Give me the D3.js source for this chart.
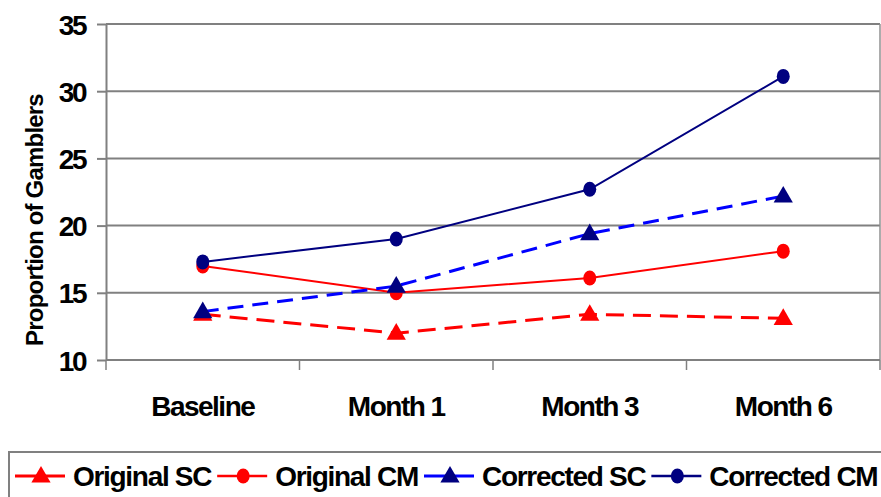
<!DOCTYPE html>
<html>
<head>
<meta charset="utf-8">
<script src="https://cdn.jsdelivr.net/npm/d3@7"></script>
<style>
  html, body { margin: 0; padding: 0; background: #fff; }
  svg { display: block; }
  text { font-family: "Liberation Sans", Arial, sans-serif; font-weight: bold; fill: #000; }
</style>
</head>
<body>
<svg id="chart" width="881" height="497"></svg>
<script>
// Time points and proportions of gamblers (%) for each group
const categories = ["Baseline", "Month 1", "Month 3", "Month 6"];
const originalSC  = [13.4, 12.0, 13.4, 13.1];
const originalCM  = [17.0, 15.0, 16.1, 18.1];
const correctedSC = [13.6, 15.5, 19.4, 22.2];
const correctedCM = [17.3, 19.0, 22.7, 31.1];
const yTicks = [10, 15, 20, 25, 30, 35];
const yTitle = "Proportion of Gamblers";

const seriesList = [
  { name: "Original SC",  values: originalSC,  line: "#ff0000", marker: "#ff0000", symbol: "triangle", dash: "18,9" },
  { name: "Original CM",  values: originalCM,  line: "#ff0000", marker: "#ff0000", symbol: "circle",   dash: null },
  { name: "Corrected SC", values: correctedSC, line: "#0000ff", marker: "#000080", symbol: "triangle", dash: "16,9" },
  { name: "Corrected CM", values: correctedCM, line: "#000080", marker: "#000080", symbol: "circle",   dash: null }
];

const svg = d3.select("#chart");
const plot = { left: 106, right: 880, top: 24, bottom: 360 };

const x = d3.scaleBand().domain(categories).range([plot.left, plot.right]).padding(0);
const y = d3.scaleLinear().domain([10, 35]).range([plot.bottom, plot.top]);

// Horizontal gridlines
svg.append("g")
  .selectAll("line")
  .data(yTicks)
  .join("line")
  .attr("x1", plot.left).attr("x2", plot.right)
  .attr("y1", d => y(d)).attr("y2", d => y(d))
  .attr("stroke", "#808080").attr("stroke-width", 2);

// Right edge of plot area
svg.append("line")
  .attr("x1", plot.right).attr("x2", plot.right)
  .attr("y1", plot.top).attr("y2", plot.bottom)
  .attr("stroke", "#909090").attr("stroke-width", 1.5);

// Y axis
const yAxis = svg.append("g")
  .attr("transform", `translate(${plot.left},0)`)
  .call(d3.axisLeft(y).tickValues(yTicks).tickSize(9).tickPadding(12).tickSizeOuter(0));
yAxis.select(".domain").attr("stroke", "#808080").attr("stroke-width", 2);
yAxis.selectAll(".tick line").attr("stroke", "#808080").attr("stroke-width", 2);
yAxis.selectAll(".tick text")
  .attr("font-size", 28).attr("letter-spacing", "-2.5px")
  .attr("font-family", "Liberation Sans, Arial, sans-serif").attr("font-weight", "bold")
  .attr("fill", "#000").attr("dy", "0.36em");

// X axis with ticks between categories
const xAxis = svg.append("g")
  .attr("transform", `translate(0,${plot.bottom})`);
xAxis.append("line")
  .attr("x1", plot.left).attr("x2", plot.right)
  .attr("stroke", "#808080").attr("stroke-width", 2);
const boundaries = categories.map(c => x(c)).concat([plot.right]);
xAxis.selectAll("line.sep")
  .data(boundaries)
  .join("line").attr("class", "sep")
  .attr("x1", d => d).attr("x2", d => d)
  .attr("y1", 0).attr("y2", 10)
  .attr("stroke", "#808080").attr("stroke-width", 1.5);
xAxis.selectAll("text")
  .data(categories)
  .join("text")
  .attr("x", d => x(d) + x.bandwidth() / 2)
  .attr("y", 56)
  .attr("text-anchor", "middle")
  .attr("font-size", 28).attr("letter-spacing", "-1.5px")
  .text(d => d);

// Y title
svg.append("text")
  .attr("transform", `translate(43,220) rotate(-90)`)
  .attr("text-anchor", "middle")
  .attr("font-size", 24).attr("letter-spacing", "-0.8px")
  .text(yTitle);

const triangle = d3.symbol().type(d3.symbolTriangle).size(160);

function drawMarker(g, s, cx, cy) {
  if (s.symbol === "circle") {
    g.append("ellipse").attr("cx", cx).attr("cy", cy).attr("rx", 6.5).attr("ry", 7.5)
      .attr("fill", s.marker);
  } else {
    g.append("path").attr("d", triangle).attr("transform", `translate(${cx},${cy + 1})`)
      .attr("fill", s.marker);
  }
}

const lineGen = d3.line()
  .x((d, i) => x(categories[i]) + x.bandwidth() / 2)
  .y(d => y(d));

// Series lines and markers
seriesList.forEach(s => {
  const g = svg.append("g");
  g.append("path")
    .attr("d", lineGen(s.values))
    .attr("fill", "none")
    .attr("stroke", s.line)
    .attr("stroke-width", s.dash ? 3 : 2)
    .attr("stroke-dasharray", s.dash);
  s.values.forEach((v, i) => drawMarker(g, s, x(categories[i]) + x.bandwidth() / 2, y(v)));
});

// Legend
const legend = svg.append("g");
legend.append("rect")
  .attr("x", 9).attr("y", 452).attr("width", 890).attr("height", 60)
  .attr("fill", "#fff").attr("stroke", "#808080").attr("stroke-width", 2);
let lx = 15;
const ly = 476;
seriesList.forEach(s => {
  const item = legend.append("g");
  item.append("line")
    .attr("x1", lx).attr("x2", lx + 50).attr("y1", ly).attr("y2", ly)
    .attr("stroke", s.line).attr("stroke-width", s.dash ? 3 : 2.5)
    .attr("stroke-dasharray", s.dash ? "22,6" : null);
  drawMarker(item, s, lx + 26, ly);
  const t = item.append("text")
    .attr("x", lx + 58).attr("y", ly).attr("dy", "0.36em")
    .attr("font-size", 28).attr("letter-spacing", "-1.3px")
    .text(s.name);
  lx += 58 + t.node().getComputedTextLength() + 6;
});
</script>
</body>
</html>
